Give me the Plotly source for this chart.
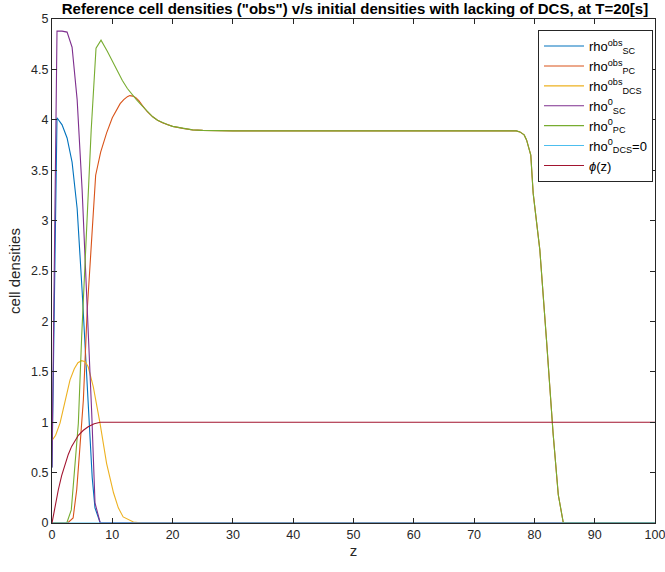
import plotly.graph_objects as go

# ---- data ----
z_obs_sc = [0, 0.83, 1.67, 2.5, 3.33, 4.17, 5.0, 5.83, 6.67, 7.13, 8.0, 100]
rho_obs_sc = [0.55, 4.02, 3.95, 3.82, 3.58, 3.12, 2.3, 1.35, 0.45, 0.15, 0, 0]

z_obs_pc = [0, 2.6, 3.5, 4.1, 4.64, 5.2, 5.83, 6.67, 7.24, 8.07, 9.06, 10.0, 10.7, 11.3, 11.9, 12.5, 12.9,
            13.4, 13.9, 14.4, 15.0, 15.8, 16.7, 17.5, 18.3, 19.2, 20.0, 21.7, 23.3, 25.0, 30.0, 40.0, 50.0,
            60.0, 70.0, 77.0, 77.6, 78.3, 78.7, 79.4, 79.8, 80.9, 82.0, 83.1, 83.96, 84.8, 100]
rho_obs_pc = [0, 0, 0.05, 0.33, 0.76, 1.22, 2.1, 2.95, 3.45, 3.68, 3.87, 4.02, 4.1, 4.16, 4.2, 4.23, 4.24,
              4.235, 4.22, 4.19, 4.14, 4.08, 4.03, 3.995, 3.97, 3.95, 3.935, 3.915, 3.9, 3.895, 3.89, 3.89, 3.89,
              3.89, 3.89, 3.89, 3.88, 3.85, 3.8, 3.65, 3.27, 2.71, 1.82, 0.89, 0.28, 0, 0]

z_obs_dcs = [0, 0.6, 1.33, 2.16, 2.99, 3.7, 4.3, 4.92, 5.5, 6.0, 6.85, 7.96, 9.06, 10.2, 11.0, 11.8, 13.5, 15.0, 100]
rho_obs_dcs = [0.82, 0.87, 0.99, 1.19, 1.42, 1.53, 1.59, 1.61, 1.6, 1.55, 1.35, 0.99, 0.59, 0.3, 0.15, 0.06, 0.01, 0, 0]

z_0_sc = [0, 0.83, 1.67, 2.5, 3.33, 4.17, 5.0, 5.83, 6.58, 7.13, 8.0, 100]
rho_0_sc = [0.55, 4.88, 4.88, 4.87, 4.72, 4.2, 3.3, 2.2, 1.1, 0.2, 0, 0]

z_0_pc = [0, 2.45, 3.2, 3.8, 4.37, 4.92, 5.75, 6.5, 7.3, 8.13, 9.17, 10.0, 10.83, 11.67, 12.5,
          13.33, 14.0, 14.6, 15.2, 15.8, 16.7, 17.5, 18.3, 19.2, 20.0, 21.7, 23.3, 25.0, 30.0, 40.0, 50.0,
          60.0, 70.0, 77.0, 77.6, 78.3, 78.7, 79.4, 79.8, 80.9, 82.0, 83.1, 83.96, 84.8, 100]
rho_0_pc = [0, 0, 0.13, 0.56, 0.99, 1.85, 3.0, 3.9, 4.71, 4.79, 4.68, 4.58, 4.48, 4.39, 4.31,
            4.245, 4.2, 4.16, 4.12, 4.08, 4.03, 3.995, 3.97, 3.95, 3.935, 3.915, 3.9, 3.895, 3.89, 3.89, 3.89,
            3.89, 3.89, 3.89, 3.88, 3.85, 3.8, 3.65, 3.27, 2.71, 1.82, 0.89, 0.28, 0, 0]

z_0_dcs = [0, 100]
rho_0_dcs = [0, 0]

z_phi = [0, 0.5, 1.05, 1.6, 2.16, 2.7, 3.26, 3.8, 4.37, 5.2, 6.0, 7.0, 8.0, 100]
phi = [0, 0.17, 0.33, 0.47, 0.59, 0.68, 0.76, 0.82, 0.87, 0.92, 0.955, 0.985, 1.0, 1.0]

x_ticks = [0, 10, 20, 30, 40, 50, 60, 70, 80, 90, 100]
y_ticks = [0, 0.5, 1, 1.5, 2, 2.5, 3, 3.5, 4, 4.5, 5]

names = ["rho<sup>obs</sup><sub>SC</sub>", "rho<sup>obs</sup><sub>PC</sub>",
         "rho<sup>obs</sup><sub>DCS</sub>", "rho<sup>0</sup><sub>SC</sub>",
         "rho<sup>0</sup><sub>PC</sub>", "rho<sup>0</sup><sub>DCS</sub>=0",
         "<i>ϕ</i>(z)"]
colors = ["#0072BD", "#D95319", "#EDB120", "#7E2F8E", "#77AC30", "#4DBEEE", "#A2142F"]
series = [(z_obs_sc, rho_obs_sc), (z_obs_pc, rho_obs_pc), (z_obs_dcs, rho_obs_dcs),
          (z_0_sc, rho_0_sc), (z_0_pc, rho_0_pc), (z_0_dcs, rho_0_dcs), (z_phi, phi)]

fig = go.Figure()
for (xs, ys), nm, c in zip(series, names, colors):
    fig.add_trace(go.Scatter(x=xs, y=ys, mode="lines", name=nm,
                             line=dict(color=c, width=1.1)))

axis_common = dict(showline=True, mirror="ticks", linecolor="#262626", linewidth=1,
                   ticks="inside", ticklen=5, tickcolor="#262626", showgrid=False,
                   zeroline=False, automargin=False, ticklabeloverflow="allow",
                   tickfont=dict(size=12.5, color="#262626"))

fig.update_layout(
    width=665, height=572,
    margin=dict(l=52, r=10, t=19, b=49),
    paper_bgcolor="white", plot_bgcolor="white",
    font=dict(family="Liberation Sans, Arial, sans-serif", color="#262626"),
    title=dict(text="<b>Reference cell densities (\"obs\") v/s initial densities with lacking of DCS, at T=20[s]</b>",
               x=0.5338, xanchor="center", y=0.985, yanchor="middle", automargin=False,
               font=dict(size=15, color="black")),
    xaxis=dict(range=[0, 100], tickvals=x_ticks, ticktext=[str(v) for v in x_ticks],
               title=dict(text="z", font=dict(size=15), standoff=4), **axis_common),
    yaxis=dict(range=[0, 5], tickvals=y_ticks, ticktext=[f"{v:g}" for v in y_ticks],
               title=dict(text="cell densities", font=dict(size=15), standoff=6), **axis_common),
    legend=dict(x=0.9967, xanchor="right", y=0.978, yanchor="top",
                bgcolor="white", bordercolor="#262626", borderwidth=1,
                font=dict(size=13, color="black"), tracegroupgap=0, itemwidth=40),
    showlegend=True,
)

fig.write_html("out.html", config={"displayModeBar": False},
               post_script="document.body.style.margin='0';document.body.style.overflow='hidden';")
